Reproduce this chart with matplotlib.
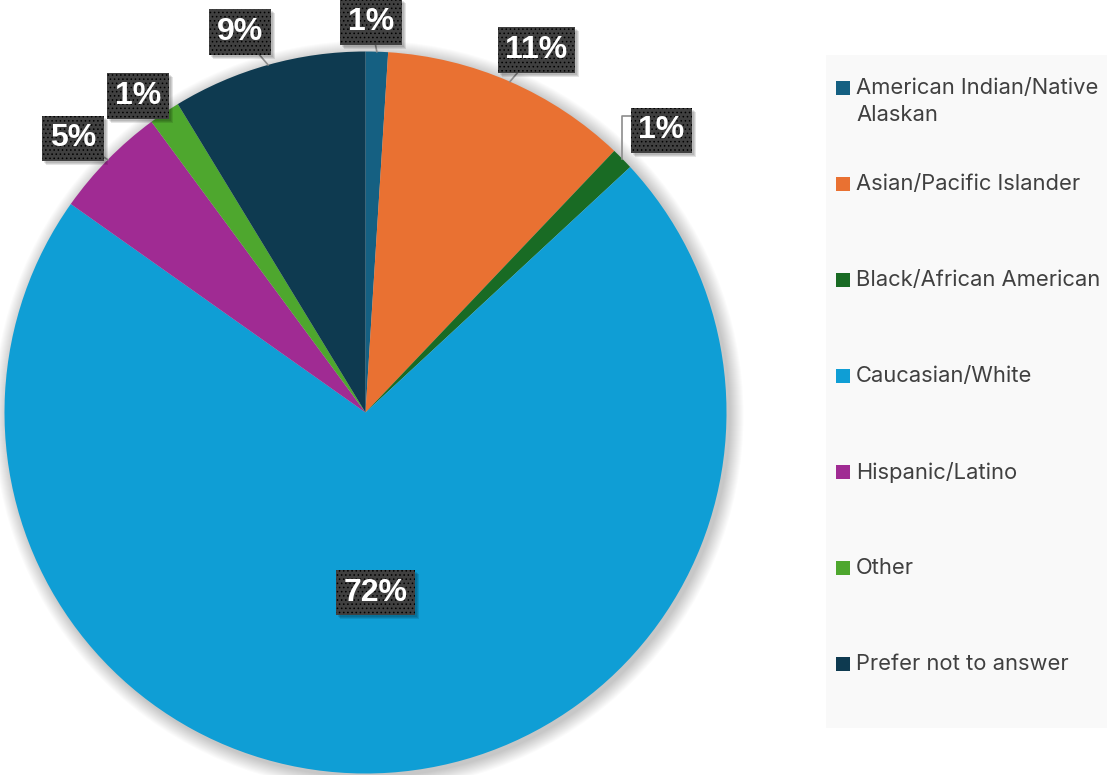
"""
Pie chart of respondent race/ethnicity with boxed percentage labels
"""

import matplotlib.pyplot as plt
from matplotlib.patches import Rectangle, Circle
import numpy as np

# Data
categories = ['American Indian/Native\nAlaskan', 'Asian/Pacific Islander',
              'Black/African American', 'Caucasian/White', 'Hispanic/Latino',
              'Other', 'Prefer not to answer']
shares = [1.0, 11.1, 1.0, 71.7, 5.1, 1.4, 8.7]

colors = ['#156082', '#e97132', '#196b24', '#0f9ed5', '#a02b93', '#4ea72e', '#0e3a50']

# label placement: distance from centre (fraction of radius), angle nudge (deg, clockwise)
label_dist = [1.082, 1.11, 1.133, 0.50, 1.11, 1.08, 1.11]
label_nudge = [-1.0, 1.7, 1.0, 0.7, -1.3, -1.9, -2.6]
elbow = [False, False, True, False, False, False, False]

plt.rcParams['hatch.color'] = '#5a5a5a'
plt.rcParams['hatch.linewidth'] = 0.6

W, H = 1107, 775
fig = plt.figure(figsize=(W / 100, H / 100), dpi=100)
ax = fig.add_axes([0, 0, 1, 1])
ax.axis('off')

cx, cy, R = 365.5, H - 412.5, 361

# soft shadow behind the pie
for k in range(14):
    ax.add_patch(Circle((cx + 3, cy - 3), R + 1 + k, color='black', alpha=0.016, lw=0, zorder=0))

wedges, _ = ax.pie(shares, colors=colors, startangle=90, counterclock=False,
                   center=(cx, cy), radius=R, wedgeprops=dict(linewidth=0))
ax.set_xlim(0, W)
ax.set_ylim(0, H)

labels = []
for w, v, d, nud, el in zip(wedges, shares, label_dist, label_nudge, elbow):
    mid = np.deg2rad((w.theta1 + w.theta2) / 2)
    ang = mid - np.deg2rad(nud)
    lx, ly = cx + d * R * np.cos(ang), cy + d * R * np.sin(ang)
    if d > 1:
        ex, ey = cx + R * np.cos(mid), cy + R * np.sin(mid)
        if el:
            ax.plot([ex, ex, lx], [ey, ly + 14, ly + 14], color='#8c8c8c', lw=1.2, zorder=3)
        else:
            ax.plot([ex, lx], [ey, ly], color='#8c8c8c', lw=1.2, zorder=3)
    t = ax.text(lx, ly, f'{v:.0f}%', ha='center', va='center', fontsize=23,
                fontweight='bold', color='white', family=['Liberation Sans', 'DejaVu Sans'],
                zorder=5,
                bbox=dict(boxstyle='square,pad=0.24', facecolor='#404040', hatch='....',
                          linewidth=0))
    labels.append(t)

# drop shadows under the label boxes
fig.canvas.draw()
inv = ax.transData.inverted()
for t in labels:
    bb = t.get_bbox_patch().get_window_extent()
    (x0, y0), (x1, y1) = inv.transform([(bb.x0, bb.y0), (bb.x1, bb.y1)])
    for k in range(3):
        ax.add_patch(Rectangle((x0 + 2 + k, y0 - 2 - k), x1 - x0, y1 - y0,
                               color='black', alpha=0.1, lw=0, zorder=4))

# Legend panel
ax.add_patch(Rectangle((826, H - 728), W - 826, 728 - 55, color='#f9f9f9', lw=0, zorder=0))
for i, (lab, c) in enumerate(zip(categories, colors)):
    y = H - (88 + i * 96)
    ax.add_patch(Rectangle((836, y - 7), 14, 14, color=c, lw=0))
    ax.text(856, y + 10, lab, ha='left', va='top', fontsize=15.8, color='#404040',
            family='Inter', linespacing=1.45)

plt.savefig('out.png', dpi=100)
